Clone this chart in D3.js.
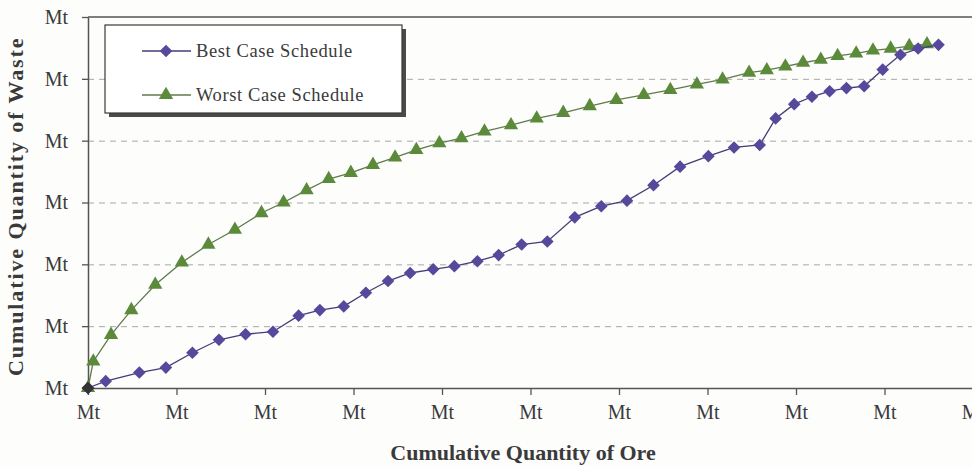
<!DOCTYPE html>
<html>
<head>
<meta charset="utf-8">
<script src="https://cdn.jsdelivr.net/npm/d3@7"></script>
<style>
  body { margin: 0; background: #fdfdfc; }
  #chart { width: 972px; height: 467px; }
  text { font-family: "Liberation Serif", "DejaVu Serif", serif; fill: #3a3a3a; }
  .grid line { stroke: #a8a8a8; stroke-dasharray: 6,5; }
  .grid path { display: none; }
  .axisTitle { font-weight: bold; font-size: 22px; }
</style>
</head>
<body>
<div id="chart"><svg width="972" height="467"></svg></div>
<script>

// cumulative ore (x) and waste (y), one unit = 1/10 of a tick
const bestOre   = [0, 2.0, 5.8, 8.8, 11.8, 14.8, 17.8, 20.9, 23.8, 26.2, 28.9, 31.4, 33.9, 36.4, 39.0,
                   41.4, 44.0, 46.4, 49.0, 51.9, 55.0, 58.0, 60.9, 63.9, 66.9, 70.1, 73.0, 75.9,
                   77.7, 79.8, 81.8, 83.8, 85.7, 87.7, 89.8, 91.8, 93.8, 96.1];
const bestWaste = [0, 1.1, 2.5, 3.3, 5.7, 7.8, 8.7, 9.1, 11.7, 12.6, 13.2, 15.4, 17.3, 18.6, 19.2,
                   19.7, 20.5, 21.5, 23.2, 23.7, 27.6, 29.4, 30.3, 32.8, 35.8, 37.5, 38.9, 39.3,
                   43.6, 45.9, 47.1, 48.0, 48.5, 48.8, 51.5, 53.9, 54.9, 55.5];

const worstOre   = [0, 0.6, 2.6, 4.9, 7.6, 10.6, 13.6, 16.6, 19.6, 22.1, 24.7, 27.2, 29.7, 32.2,
                    34.7, 37.1, 39.7, 42.2, 44.8, 47.8, 50.7, 53.7, 56.7, 59.7, 62.8, 65.8, 68.8,
                    71.7, 74.7, 76.7, 78.8, 80.8, 82.8, 84.7, 86.8, 88.7, 90.7, 92.8, 94.8];
const worstWaste = [0, 4.3, 8.6, 12.6, 16.7, 20.3, 23.2, 25.6, 28.3, 30.0, 32.0, 33.8, 34.8, 36.1,
                    37.3, 38.5, 39.6, 40.4, 41.5, 42.5, 43.6, 44.5, 45.6, 46.6, 47.4, 48.2, 49.1,
                    49.9, 51.0, 51.4, 52.0, 52.6, 53.1, 53.7, 54.1, 54.6, 54.9, 55.3, 55.6];

// tick positions (the scan only shows the unit "Mt")
const xTicks = [0, 10, 20, 30, 40, 50, 60, 70, 80, 90, 100];
const yTicks = [0, 10, 20, 30, 40, 50, 60];
const tickLabel = "Mt";

const seriesNames = ["Best Case Schedule", "Worst Case Schedule"];

function makeChart() {

    /**********************
    ***** BASIC SETUP *****
    **********************/

    const svg = d3.select("#chart").select("svg");
    const margin = {top: 17, left: 88, bottom: 79};
    const height = 467;

    const xScale = d3.scaleLinear()
        .domain([0, 100])
        .range([margin.left, 973]);

    const yScale = d3.scaleLinear()
        .domain([0, 60])
        .range([height - margin.bottom, margin.top]);

    const best = bestOre.map((d, i) => ({x: d, y: bestWaste[i]}));
    const worst = worstOre.map((d, i) => ({x: d, y: worstWaste[i]}));

    const purple = "#56499b";
    const green = "#5c8a3b";

    /*******************
    ***** GRIDLINES *****
    *******************/

    svg.append("g")
        .attr("class", "grid")
        .attr("transform", `translate(${margin.left}, 0)`)
        .call(d3.axisLeft(yScale)
            .tickValues(yTicks.slice(1, -1))
            .tickSize(-(972 - margin.left))
            .tickFormat(""));

    /**************
    ***** AXES *****
    **************/

    const xAxis = svg.append("g")
        .attr("transform", `translate(0, ${yScale(0)})`)
        .call(d3.axisBottom(xScale)
            .tickValues(xTicks)
            .tickSize(7)
            .tickSizeOuter(0)
            .tickPadding(10)
            .tickFormat(() => tickLabel));

    const yAxis = svg.append("g")
        .attr("transform", `translate(${margin.left}, 0)`)
        .call(d3.axisLeft(yScale)
            .tickValues(yTicks)
            .tickSize(6)
            .tickSizeOuter(0)
            .tickPadding(14)
            .tickFormat(() => tickLabel));

    [xAxis, yAxis].forEach(ax => {
        ax.select(".domain").attr("stroke", "#555").attr("stroke-width", 1.5);
        ax.selectAll(".tick line").attr("stroke", "#555").attr("stroke-width", 1.3);
        ax.selectAll("text")
            .attr("font-family", "Liberation Serif, serif")
            .attr("font-size", 20)
            .attr("fill", "#3a3a3a");
    });

    // top border of the plot area
    svg.append("line")
        .attr("x1", margin.left)
        .attr("x2", 972)
        .attr("y1", yScale(60))
        .attr("y2", yScale(60))
        .attr("stroke", "#555")
        .attr("stroke-width", 1.5);

    /****************
    ***** LINES *****
    ****************/

    const line = d3.line()
        .x(d => xScale(d.x))
        .y(d => yScale(d.y));

    const triangle = d3.symbol().type(d3.symbolTriangle).size(88);
    const diamond = d3.symbol().type(d3.symbolSquare).size(80);

    svg.append("path")
        .datum(worst)
        .attr("d", line)
        .attr("fill", "none")
        .attr("stroke", "#5f7a4c")
        .attr("stroke-width", 1.3);

    svg.selectAll(".tri")
        .data(worst)
        .enter()
        .append("path")
        .attr("class", "tri")
        .attr("d", triangle)
        .attr("transform", d => `translate(${xScale(d.x)}, ${yScale(d.y)})`)
        .attr("fill", green);

    svg.append("path")
        .datum(best)
        .attr("d", line)
        .attr("fill", "none")
        .attr("stroke", "#443c78")
        .attr("stroke-width", 1.3);

    svg.selectAll(".dia")
        .data(best)
        .enter()
        .append("path")
        .attr("class", "dia")
        .attr("d", diamond)
        .attr("transform", d => `translate(${xScale(d.x)}, ${yScale(d.y)}) rotate(45)`)
        .attr("fill", purple);

    // the origin marker looks dark in the scan
    svg.append("path")
        .attr("d", diamond)
        .attr("transform", `translate(${xScale(0)}, ${yScale(0)}) rotate(45)`)
        .attr("fill", "#333");

    /****************
    ***** LEGEND *****
    ****************/

    const legend = svg.append("g").attr("id", "legend");

    legend.append("rect")
        .attr("x", 109).attr("y", 29)
        .attr("width", 297).attr("height", 88)
        .attr("fill", "#4a4a4a");

    legend.append("rect")
        .attr("x", 105).attr("y", 25)
        .attr("width", 297).attr("height", 88)
        .attr("fill", "#ffffff")
        .attr("stroke", "#3a3a3a")
        .attr("stroke-width", 1.2);

    const items = [
        {name: seriesNames[0], color: "#443c78", mark: diamond, fill: purple, rot: 45, y: 51},
        {name: seriesNames[1], color: "#5f7a4c", mark: triangle, fill: green, rot: 0, y: 95}
    ];

    items.forEach(it => {
        legend.append("line")
            .attr("x1", 142).attr("x2", 191)
            .attr("y1", it.y).attr("y2", it.y)
            .attr("stroke", it.color)
            .attr("stroke-width", 1.3);
        legend.append("path")
            .attr("d", it.mark)
            .attr("transform", `translate(166, ${it.y}) rotate(${it.rot})`)
            .attr("fill", it.fill);
        legend.append("text")
            .text(it.name)
            .attr("x", 196)
            .attr("y", it.y + 6)
            .attr("font-size", 18.5)
            .attr("letter-spacing", 0.6);
    });

    /*********************
    ***** AXIS TITLES *****
    *********************/

    svg.append("text")
        .attr("class", "axisTitle")
        .text("Cumulative Quantity of Ore")
        .attr("x", 523)
        .attr("y", 460)
        .attr("text-anchor", "middle");

    // in the scan this title is long and reaches nearly to the top edge
    svg.append("text")
        .attr("class", "axisTitle")
        .text("Cumulative Quantity of Waste")
        .attr("text-anchor", "start")
        .attr("font-size", 23)
        .attr("letter-spacing", 1.9)
        .attr("transform", "translate(23, 376) rotate(-90)");
}

makeChart();
</script>
</body>
</html>
